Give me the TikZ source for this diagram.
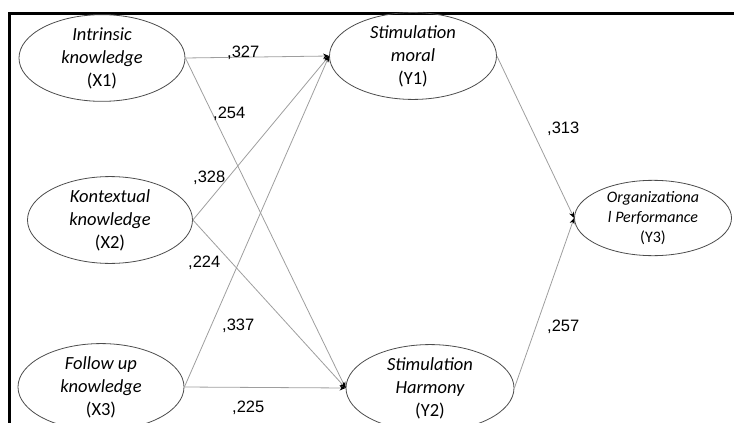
\documentclass[tikz,border=0pt]{standalone}
\usepackage{fontspec}
\setmainfont{Carlito}
\newfontfamily\numfont{Liberation Sans}
\usetikzlibrary{shapes.geometric,arrows.meta}
\begin{document}
\begin{tikzpicture}[x=1pt,y=-1pt,
  var/.style={ellipse, draw=black!70, line width=0.8pt, inner sep=0pt, align=center,
    font=\fontsize{18.5}{23}\selectfont\itshape},
  conn/.style={draw=black!38, line width=0.8pt, -{Stealth[length=6pt,width=5pt,black]}},
  coef/.style={font=\numfont\fontsize{16.5}{20}\selectfont, inner sep=0pt, anchor=base west}]
\useasboundingbox (0,0) rectangle (734,423);
\draw[line width=2.5pt] (9.7,423) -- (9.7,13.5) -- (734,13.5);

\node[var, minimum width=166pt, minimum height=66pt] (X1) at (102,58) {Intrinsic\\knowledge\\{\upshape(X1)}};
\node[var, minimum width=165pt, minimum height=73pt] (X2) at (110,220) {Kontextual\\knowledge\\{\upshape(X2)}};
\node[var, minimum width=166pt, minimum height=70pt] (X3) at (101,387) {Follow up\\knowledge\\{\upshape(X3)}};
\node[var, minimum width=167pt, minimum height=71pt] (Y1) at (413,56) {Stimulation\\moral\\{\upshape(Y1)}};
\node[var, minimum width=168pt, minimum height=72pt] (Y2) at (430,388) {Stimulation\\Harmony\\{\upshape(Y2)}};
\node[var, minimum width=157pt, minimum height=69pt, font=\fontsize{16}{20}\selectfont\itshape] (Y3) at (653,218) {Organizationa\\l Performance\\{\upshape(Y3)}};

\draw[conn] (X1.east) -- (Y1.west);
\draw[conn] (X1.east) -- (Y2.west);
\draw[conn] (X2.east) -- (Y1.west);
\draw[conn] (X2.east) -- (Y2.west);
\draw[conn] (X3.east) -- (Y1.west);
\draw[conn] (X3.east) -- (Y2.west);
\draw[conn] (Y1.east) -- (Y3.west);
\draw[conn] (Y2.east) -- (Y3.west);

\node[coef] (c1) at (227,57) {,327};
\node[coef] (c2) at (213,118) {,254};
\node[coef] (c3) at (193,182) {,328};
\node[coef] (c4) at (188,267) {,224};
\node[coef] (c5) at (222,330) {,337};
\node[coef] (c6) at (232,412) {,225};
\node[coef] (c7) at (547,133) {,313};
\node[coef] (c8) at (547,331) {,257};
\end{tikzpicture}
\end{document}
